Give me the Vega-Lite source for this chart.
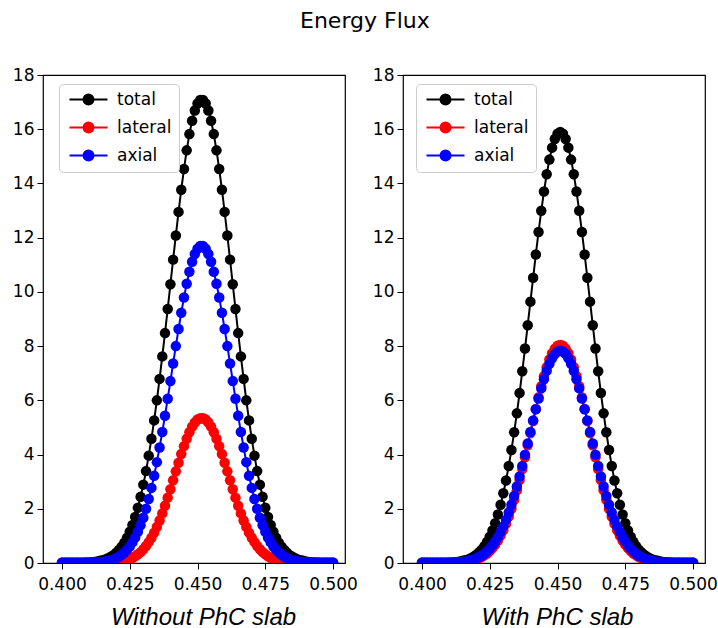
{
"$schema": "https://vega.github.io/schema/vega-lite/v6.json",
"autosize": {"type": "pad"},
"padding": {"left": 11, "top": 10, "right": 2, "bottom": 0},
"background": "white",
"bounds": "flush",
"spacing": 58,
"title": {"text": "Energy Flux", "font": "DejaVu Sans", "fontSize": 22, "fontWeight": "normal", "color": "black", "anchor": "middle", "offset": 32},
"config": {
  "view": {"stroke": "black", "strokeWidth": 1.2},
  "axis": {"grid": false, "domain": false, "tickColor": "black", "tickSize": 6, "tickWidth": 1, "labelFont": "DejaVu Sans", "labelFontSize": 17, "labelColor": "black"}
},
"datasets": {
"wo": [
{"s":"total","x":0.4,"y":0.01},{"s":"total","x":0.401,"y":0.01},{"s":"total","x":0.402,"y":0.01},{"s":"total","x":0.403,"y":0.01},{"s":"total","x":0.404,"y":0.01},
{"s":"total","x":0.405,"y":0.01},{"s":"total","x":0.406,"y":0.01},{"s":"total","x":0.407,"y":0.01},{"s":"total","x":0.408,"y":0.01},{"s":"total","x":0.409,"y":0.02},
{"s":"total","x":0.41,"y":0.02},{"s":"total","x":0.411,"y":0.03},{"s":"total","x":0.412,"y":0.04},{"s":"total","x":0.413,"y":0.06},{"s":"total","x":0.414,"y":0.08},
{"s":"total","x":0.415,"y":0.1},{"s":"total","x":0.416,"y":0.13},{"s":"total","x":0.417,"y":0.18},{"s":"total","x":0.418,"y":0.23},{"s":"total","x":0.419,"y":0.29},
{"s":"total","x":0.42,"y":0.38},{"s":"total","x":0.421,"y":0.48},{"s":"total","x":0.422,"y":0.6},{"s":"total","x":0.423,"y":0.75},{"s":"total","x":0.424,"y":0.93},
{"s":"total","x":0.425,"y":1.15},{"s":"total","x":0.426,"y":1.4},{"s":"total","x":0.427,"y":1.7},{"s":"total","x":0.428,"y":2.04},{"s":"total","x":0.429,"y":2.44},
{"s":"total","x":0.43,"y":2.89},{"s":"total","x":0.431,"y":3.39},{"s":"total","x":0.432,"y":3.96},{"s":"total","x":0.433,"y":4.58},{"s":"total","x":0.434,"y":5.26},
{"s":"total","x":0.435,"y":6.0},{"s":"total","x":0.436,"y":6.79},{"s":"total","x":0.437,"y":7.62},{"s":"total","x":0.438,"y":8.48},{"s":"total","x":0.439,"y":9.37},
{"s":"total","x":0.44,"y":10.28},{"s":"total","x":0.441,"y":11.19},{"s":"total","x":0.442,"y":12.08},{"s":"total","x":0.443,"y":12.95},{"s":"total","x":0.444,"y":13.77},
{"s":"total","x":0.445,"y":14.53},{"s":"total","x":0.446,"y":15.22},{"s":"total","x":0.447,"y":15.82},{"s":"total","x":0.448,"y":16.31},{"s":"total","x":0.449,"y":16.69},
{"s":"total","x":0.45,"y":16.95},{"s":"total","x":0.451,"y":17.08},{"s":"total","x":0.452,"y":17.08},{"s":"total","x":0.453,"y":16.95},{"s":"total","x":0.454,"y":16.69},
{"s":"total","x":0.455,"y":16.31},{"s":"total","x":0.456,"y":15.82},{"s":"total","x":0.457,"y":15.22},{"s":"total","x":0.458,"y":14.53},{"s":"total","x":0.459,"y":13.77},
{"s":"total","x":0.46,"y":12.95},{"s":"total","x":0.461,"y":12.08},{"s":"total","x":0.462,"y":11.19},{"s":"total","x":0.463,"y":10.28},{"s":"total","x":0.464,"y":9.37},
{"s":"total","x":0.465,"y":8.48},{"s":"total","x":0.466,"y":7.62},{"s":"total","x":0.467,"y":6.79},{"s":"total","x":0.468,"y":6.0},{"s":"total","x":0.469,"y":5.26},
{"s":"total","x":0.47,"y":4.58},{"s":"total","x":0.471,"y":3.96},{"s":"total","x":0.472,"y":3.39},{"s":"total","x":0.473,"y":2.89},{"s":"total","x":0.474,"y":2.44},
{"s":"total","x":0.475,"y":2.04},{"s":"total","x":0.476,"y":1.7},{"s":"total","x":0.477,"y":1.4},{"s":"total","x":0.478,"y":1.15},{"s":"total","x":0.479,"y":0.93},
{"s":"total","x":0.48,"y":0.75},{"s":"total","x":0.481,"y":0.6},{"s":"total","x":0.482,"y":0.48},{"s":"total","x":0.483,"y":0.38},{"s":"total","x":0.484,"y":0.29},
{"s":"total","x":0.485,"y":0.23},{"s":"total","x":0.486,"y":0.18},{"s":"total","x":0.487,"y":0.13},{"s":"total","x":0.488,"y":0.1},{"s":"total","x":0.489,"y":0.08},
{"s":"total","x":0.49,"y":0.06},{"s":"total","x":0.491,"y":0.04},{"s":"total","x":0.492,"y":0.03},{"s":"total","x":0.493,"y":0.02},{"s":"total","x":0.494,"y":0.02},
{"s":"total","x":0.495,"y":0.01},{"s":"total","x":0.496,"y":0.01},{"s":"total","x":0.497,"y":0.01},{"s":"total","x":0.498,"y":0.01},{"s":"total","x":0.499,"y":0.01},
{"s":"total","x":0.5,"y":0.01},
{"s":"lateral","x":0.4,"y":0.01},{"s":"lateral","x":0.401,"y":0.01},{"s":"lateral","x":0.402,"y":0.01},{"s":"lateral","x":0.403,"y":0.01},{"s":"lateral","x":0.404,"y":0.01},
{"s":"lateral","x":0.405,"y":0.01},{"s":"lateral","x":0.406,"y":0.01},{"s":"lateral","x":0.407,"y":0.01},{"s":"lateral","x":0.408,"y":0.01},{"s":"lateral","x":0.409,"y":0.01},
{"s":"lateral","x":0.41,"y":0.01},{"s":"lateral","x":0.411,"y":0.01},{"s":"lateral","x":0.412,"y":0.01},{"s":"lateral","x":0.413,"y":0.01},{"s":"lateral","x":0.414,"y":0.01},
{"s":"lateral","x":0.415,"y":0.01},{"s":"lateral","x":0.416,"y":0.01},{"s":"lateral","x":0.417,"y":0.01},{"s":"lateral","x":0.418,"y":0.02},{"s":"lateral","x":0.419,"y":0.02},
{"s":"lateral","x":0.42,"y":0.03},{"s":"lateral","x":0.421,"y":0.05},{"s":"lateral","x":0.422,"y":0.06},{"s":"lateral","x":0.423,"y":0.08},{"s":"lateral","x":0.424,"y":0.11},
{"s":"lateral","x":0.425,"y":0.15},{"s":"lateral","x":0.426,"y":0.19},{"s":"lateral","x":0.427,"y":0.25},{"s":"lateral","x":0.428,"y":0.32},{"s":"lateral","x":0.429,"y":0.4},
{"s":"lateral","x":0.43,"y":0.51},{"s":"lateral","x":0.431,"y":0.63},{"s":"lateral","x":0.432,"y":0.77},{"s":"lateral","x":0.433,"y":0.93},{"s":"lateral","x":0.434,"y":1.12},
{"s":"lateral","x":0.435,"y":1.33},{"s":"lateral","x":0.436,"y":1.57},{"s":"lateral","x":0.437,"y":1.83},{"s":"lateral","x":0.438,"y":2.11},{"s":"lateral","x":0.439,"y":2.41},
{"s":"lateral","x":0.44,"y":2.72},{"s":"lateral","x":0.441,"y":3.05},{"s":"lateral","x":0.442,"y":3.38},{"s":"lateral","x":0.443,"y":3.7},{"s":"lateral","x":0.444,"y":4.02},
{"s":"lateral","x":0.445,"y":4.31},{"s":"lateral","x":0.446,"y":4.58},{"s":"lateral","x":0.447,"y":4.82},{"s":"lateral","x":0.448,"y":5.03},{"s":"lateral","x":0.449,"y":5.18},
{"s":"lateral","x":0.45,"y":5.29},{"s":"lateral","x":0.451,"y":5.34},{"s":"lateral","x":0.452,"y":5.34},{"s":"lateral","x":0.453,"y":5.29},{"s":"lateral","x":0.454,"y":5.18},
{"s":"lateral","x":0.455,"y":5.03},{"s":"lateral","x":0.456,"y":4.82},{"s":"lateral","x":0.457,"y":4.58},{"s":"lateral","x":0.458,"y":4.31},{"s":"lateral","x":0.459,"y":4.02},
{"s":"lateral","x":0.46,"y":3.7},{"s":"lateral","x":0.461,"y":3.38},{"s":"lateral","x":0.462,"y":3.05},{"s":"lateral","x":0.463,"y":2.72},{"s":"lateral","x":0.464,"y":2.41},
{"s":"lateral","x":0.465,"y":2.11},{"s":"lateral","x":0.466,"y":1.83},{"s":"lateral","x":0.467,"y":1.57},{"s":"lateral","x":0.468,"y":1.33},{"s":"lateral","x":0.469,"y":1.12},
{"s":"lateral","x":0.47,"y":0.93},{"s":"lateral","x":0.471,"y":0.77},{"s":"lateral","x":0.472,"y":0.63},{"s":"lateral","x":0.473,"y":0.51},{"s":"lateral","x":0.474,"y":0.4},
{"s":"lateral","x":0.475,"y":0.32},{"s":"lateral","x":0.476,"y":0.25},{"s":"lateral","x":0.477,"y":0.19},{"s":"lateral","x":0.478,"y":0.15},{"s":"lateral","x":0.479,"y":0.11},
{"s":"lateral","x":0.48,"y":0.08},{"s":"lateral","x":0.481,"y":0.06},{"s":"lateral","x":0.482,"y":0.05},{"s":"lateral","x":0.483,"y":0.03},{"s":"lateral","x":0.484,"y":0.02},
{"s":"lateral","x":0.485,"y":0.02},{"s":"lateral","x":0.486,"y":0.01},{"s":"lateral","x":0.487,"y":0.01},{"s":"lateral","x":0.488,"y":0.01},{"s":"lateral","x":0.489,"y":0.01},
{"s":"lateral","x":0.49,"y":0.01},{"s":"lateral","x":0.491,"y":0.01},{"s":"lateral","x":0.492,"y":0.01},{"s":"lateral","x":0.493,"y":0.01},{"s":"lateral","x":0.494,"y":0.01},
{"s":"lateral","x":0.495,"y":0.01},{"s":"lateral","x":0.496,"y":0.01},{"s":"lateral","x":0.497,"y":0.01},{"s":"lateral","x":0.498,"y":0.01},{"s":"lateral","x":0.499,"y":0.01},
{"s":"lateral","x":0.5,"y":0.01},
{"s":"axial","x":0.4,"y":0.01},{"s":"axial","x":0.401,"y":0.01},{"s":"axial","x":0.402,"y":0.01},{"s":"axial","x":0.403,"y":0.01},{"s":"axial","x":0.404,"y":0.01},
{"s":"axial","x":0.405,"y":0.01},{"s":"axial","x":0.406,"y":0.01},{"s":"axial","x":0.407,"y":0.01},{"s":"axial","x":0.408,"y":0.01},{"s":"axial","x":0.409,"y":0.01},
{"s":"axial","x":0.41,"y":0.01},{"s":"axial","x":0.411,"y":0.01},{"s":"axial","x":0.412,"y":0.02},{"s":"axial","x":0.413,"y":0.02},{"s":"axial","x":0.414,"y":0.03},
{"s":"axial","x":0.415,"y":0.04},{"s":"axial","x":0.416,"y":0.06},{"s":"axial","x":0.417,"y":0.08},{"s":"axial","x":0.418,"y":0.1},{"s":"axial","x":0.419,"y":0.14},
{"s":"axial","x":0.42,"y":0.18},{"s":"axial","x":0.421,"y":0.23},{"s":"axial","x":0.422,"y":0.3},{"s":"axial","x":0.423,"y":0.38},{"s":"axial","x":0.424,"y":0.49},
{"s":"axial","x":0.425,"y":0.61},{"s":"axial","x":0.426,"y":0.76},{"s":"axial","x":0.427,"y":0.94},{"s":"axial","x":0.428,"y":1.15},{"s":"axial","x":0.429,"y":1.39},
{"s":"axial","x":0.43,"y":1.67},{"s":"axial","x":0.431,"y":2.0},{"s":"axial","x":0.432,"y":2.36},{"s":"axial","x":0.433,"y":2.77},{"s":"axial","x":0.434,"y":3.22},
{"s":"axial","x":0.435,"y":3.72},{"s":"axial","x":0.436,"y":4.26},{"s":"axial","x":0.437,"y":4.83},{"s":"axial","x":0.438,"y":5.43},{"s":"axial","x":0.439,"y":6.06},
{"s":"axial","x":0.44,"y":6.71},{"s":"axial","x":0.441,"y":7.36},{"s":"axial","x":0.442,"y":8.0},{"s":"axial","x":0.443,"y":8.63},{"s":"axial","x":0.444,"y":9.23},
{"s":"axial","x":0.445,"y":9.79},{"s":"axial","x":0.446,"y":10.3},{"s":"axial","x":0.447,"y":10.74},{"s":"axial","x":0.448,"y":11.11},{"s":"axial","x":0.449,"y":11.4},
{"s":"axial","x":0.45,"y":11.59},{"s":"axial","x":0.451,"y":11.69},{"s":"axial","x":0.452,"y":11.69},{"s":"axial","x":0.453,"y":11.59},{"s":"axial","x":0.454,"y":11.4},
{"s":"axial","x":0.455,"y":11.11},{"s":"axial","x":0.456,"y":10.74},{"s":"axial","x":0.457,"y":10.3},{"s":"axial","x":0.458,"y":9.79},{"s":"axial","x":0.459,"y":9.23},
{"s":"axial","x":0.46,"y":8.63},{"s":"axial","x":0.461,"y":8.0},{"s":"axial","x":0.462,"y":7.36},{"s":"axial","x":0.463,"y":6.71},{"s":"axial","x":0.464,"y":6.06},
{"s":"axial","x":0.465,"y":5.43},{"s":"axial","x":0.466,"y":4.83},{"s":"axial","x":0.467,"y":4.26},{"s":"axial","x":0.468,"y":3.72},{"s":"axial","x":0.469,"y":3.22},
{"s":"axial","x":0.47,"y":2.77},{"s":"axial","x":0.471,"y":2.36},{"s":"axial","x":0.472,"y":2.0},{"s":"axial","x":0.473,"y":1.67},{"s":"axial","x":0.474,"y":1.39},
{"s":"axial","x":0.475,"y":1.15},{"s":"axial","x":0.476,"y":0.94},{"s":"axial","x":0.477,"y":0.76},{"s":"axial","x":0.478,"y":0.61},{"s":"axial","x":0.479,"y":0.49},
{"s":"axial","x":0.48,"y":0.38},{"s":"axial","x":0.481,"y":0.3},{"s":"axial","x":0.482,"y":0.23},{"s":"axial","x":0.483,"y":0.18},{"s":"axial","x":0.484,"y":0.14},
{"s":"axial","x":0.485,"y":0.1},{"s":"axial","x":0.486,"y":0.08},{"s":"axial","x":0.487,"y":0.06},{"s":"axial","x":0.488,"y":0.04},{"s":"axial","x":0.489,"y":0.03},
{"s":"axial","x":0.49,"y":0.02},{"s":"axial","x":0.491,"y":0.02},{"s":"axial","x":0.492,"y":0.01},{"s":"axial","x":0.493,"y":0.01},{"s":"axial","x":0.494,"y":0.01},
{"s":"axial","x":0.495,"y":0.01},{"s":"axial","x":0.496,"y":0.01},{"s":"axial","x":0.497,"y":0.01},{"s":"axial","x":0.498,"y":0.01},{"s":"axial","x":0.499,"y":0.01},
{"s":"axial","x":0.5,"y":0.01}
],
"wi": [
{"s":"total","x":0.4,"y":0.01},{"s":"total","x":0.401,"y":0.01},{"s":"total","x":0.402,"y":0.01},{"s":"total","x":0.403,"y":0.01},{"s":"total","x":0.404,"y":0.01},
{"s":"total","x":0.405,"y":0.01},{"s":"total","x":0.406,"y":0.01},{"s":"total","x":0.407,"y":0.01},{"s":"total","x":0.408,"y":0.01},{"s":"total","x":0.409,"y":0.01},
{"s":"total","x":0.41,"y":0.02},{"s":"total","x":0.411,"y":0.02},{"s":"total","x":0.412,"y":0.03},{"s":"total","x":0.413,"y":0.04},{"s":"total","x":0.414,"y":0.06},
{"s":"total","x":0.415,"y":0.08},{"s":"total","x":0.416,"y":0.1},{"s":"total","x":0.417,"y":0.13},{"s":"total","x":0.418,"y":0.18},{"s":"total","x":0.419,"y":0.23},
{"s":"total","x":0.42,"y":0.3},{"s":"total","x":0.421,"y":0.39},{"s":"total","x":0.422,"y":0.49},{"s":"total","x":0.423,"y":0.62},{"s":"total","x":0.424,"y":0.78},
{"s":"total","x":0.425,"y":0.97},{"s":"total","x":0.426,"y":1.2},{"s":"total","x":0.427,"y":1.47},{"s":"total","x":0.428,"y":1.79},{"s":"total","x":0.429,"y":2.15},
{"s":"total","x":0.43,"y":2.57},{"s":"total","x":0.431,"y":3.04},{"s":"total","x":0.432,"y":3.58},{"s":"total","x":0.433,"y":4.17},{"s":"total","x":0.434,"y":4.82},
{"s":"total","x":0.435,"y":5.52},{"s":"total","x":0.436,"y":6.27},{"s":"total","x":0.437,"y":7.07},{"s":"total","x":0.438,"y":7.91},{"s":"total","x":0.439,"y":8.77},
{"s":"total","x":0.44,"y":9.64},{"s":"total","x":0.441,"y":10.52},{"s":"total","x":0.442,"y":11.38},{"s":"total","x":0.443,"y":12.21},{"s":"total","x":0.444,"y":12.99},
{"s":"total","x":0.445,"y":13.7},{"s":"total","x":0.446,"y":14.34},{"s":"total","x":0.447,"y":14.88},{"s":"total","x":0.448,"y":15.32},{"s":"total","x":0.449,"y":15.64},
{"s":"total","x":0.45,"y":15.83},{"s":"total","x":0.451,"y":15.9},{"s":"total","x":0.452,"y":15.83},{"s":"total","x":0.453,"y":15.64},{"s":"total","x":0.454,"y":15.32},
{"s":"total","x":0.455,"y":14.88},{"s":"total","x":0.456,"y":14.34},{"s":"total","x":0.457,"y":13.7},{"s":"total","x":0.458,"y":12.99},{"s":"total","x":0.459,"y":12.21},
{"s":"total","x":0.46,"y":11.38},{"s":"total","x":0.461,"y":10.52},{"s":"total","x":0.462,"y":9.64},{"s":"total","x":0.463,"y":8.77},{"s":"total","x":0.464,"y":7.91},
{"s":"total","x":0.465,"y":7.07},{"s":"total","x":0.466,"y":6.27},{"s":"total","x":0.467,"y":5.52},{"s":"total","x":0.468,"y":4.82},{"s":"total","x":0.469,"y":4.17},
{"s":"total","x":0.47,"y":3.58},{"s":"total","x":0.471,"y":3.04},{"s":"total","x":0.472,"y":2.57},{"s":"total","x":0.473,"y":2.15},{"s":"total","x":0.474,"y":1.79},
{"s":"total","x":0.475,"y":1.47},{"s":"total","x":0.476,"y":1.2},{"s":"total","x":0.477,"y":0.97},{"s":"total","x":0.478,"y":0.78},{"s":"total","x":0.479,"y":0.62},
{"s":"total","x":0.48,"y":0.49},{"s":"total","x":0.481,"y":0.39},{"s":"total","x":0.482,"y":0.3},{"s":"total","x":0.483,"y":0.23},{"s":"total","x":0.484,"y":0.18},
{"s":"total","x":0.485,"y":0.13},{"s":"total","x":0.486,"y":0.1},{"s":"total","x":0.487,"y":0.08},{"s":"total","x":0.488,"y":0.06},{"s":"total","x":0.489,"y":0.04},
{"s":"total","x":0.49,"y":0.03},{"s":"total","x":0.491,"y":0.02},{"s":"total","x":0.492,"y":0.02},{"s":"total","x":0.493,"y":0.01},{"s":"total","x":0.494,"y":0.01},
{"s":"total","x":0.495,"y":0.01},{"s":"total","x":0.496,"y":0.01},{"s":"total","x":0.497,"y":0.01},{"s":"total","x":0.498,"y":0.01},{"s":"total","x":0.499,"y":0.01},
{"s":"total","x":0.5,"y":0.01},
{"s":"lateral","x":0.4,"y":0.01},{"s":"lateral","x":0.401,"y":0.01},{"s":"lateral","x":0.402,"y":0.01},{"s":"lateral","x":0.403,"y":0.01},{"s":"lateral","x":0.404,"y":0.01},
{"s":"lateral","x":0.405,"y":0.01},{"s":"lateral","x":0.406,"y":0.01},{"s":"lateral","x":0.407,"y":0.01},{"s":"lateral","x":0.408,"y":0.01},{"s":"lateral","x":0.409,"y":0.01},
{"s":"lateral","x":0.41,"y":0.01},{"s":"lateral","x":0.411,"y":0.01},{"s":"lateral","x":0.412,"y":0.01},{"s":"lateral","x":0.413,"y":0.02},{"s":"lateral","x":0.414,"y":0.02},
{"s":"lateral","x":0.415,"y":0.03},{"s":"lateral","x":0.416,"y":0.04},{"s":"lateral","x":0.417,"y":0.06},{"s":"lateral","x":0.418,"y":0.08},{"s":"lateral","x":0.419,"y":0.1},
{"s":"lateral","x":0.42,"y":0.13},{"s":"lateral","x":0.421,"y":0.17},{"s":"lateral","x":0.422,"y":0.22},{"s":"lateral","x":0.423,"y":0.28},{"s":"lateral","x":0.424,"y":0.35},
{"s":"lateral","x":0.425,"y":0.44},{"s":"lateral","x":0.426,"y":0.55},{"s":"lateral","x":0.427,"y":0.68},{"s":"lateral","x":0.428,"y":0.83},{"s":"lateral","x":0.429,"y":1.01},
{"s":"lateral","x":0.43,"y":1.21},{"s":"lateral","x":0.431,"y":1.45},{"s":"lateral","x":0.432,"y":1.71},{"s":"lateral","x":0.433,"y":2.0},{"s":"lateral","x":0.434,"y":2.33},
{"s":"lateral","x":0.435,"y":2.68},{"s":"lateral","x":0.436,"y":3.06},{"s":"lateral","x":0.437,"y":3.47},{"s":"lateral","x":0.438,"y":3.9},{"s":"lateral","x":0.439,"y":4.34},
{"s":"lateral","x":0.44,"y":4.79},{"s":"lateral","x":0.441,"y":5.24},{"s":"lateral","x":0.442,"y":5.68},{"s":"lateral","x":0.443,"y":6.11},{"s":"lateral","x":0.444,"y":6.52},
{"s":"lateral","x":0.445,"y":6.89},{"s":"lateral","x":0.446,"y":7.22},{"s":"lateral","x":0.447,"y":7.51},{"s":"lateral","x":0.448,"y":7.74},{"s":"lateral","x":0.449,"y":7.9},
{"s":"lateral","x":0.45,"y":8.01},{"s":"lateral","x":0.451,"y":8.04},{"s":"lateral","x":0.452,"y":8.01},{"s":"lateral","x":0.453,"y":7.9},{"s":"lateral","x":0.454,"y":7.74},
{"s":"lateral","x":0.455,"y":7.51},{"s":"lateral","x":0.456,"y":7.22},{"s":"lateral","x":0.457,"y":6.89},{"s":"lateral","x":0.458,"y":6.52},{"s":"lateral","x":0.459,"y":6.11},
{"s":"lateral","x":0.46,"y":5.68},{"s":"lateral","x":0.461,"y":5.24},{"s":"lateral","x":0.462,"y":4.79},{"s":"lateral","x":0.463,"y":4.34},{"s":"lateral","x":0.464,"y":3.9},
{"s":"lateral","x":0.465,"y":3.47},{"s":"lateral","x":0.466,"y":3.06},{"s":"lateral","x":0.467,"y":2.68},{"s":"lateral","x":0.468,"y":2.33},{"s":"lateral","x":0.469,"y":2.0},
{"s":"lateral","x":0.47,"y":1.71},{"s":"lateral","x":0.471,"y":1.45},{"s":"lateral","x":0.472,"y":1.21},{"s":"lateral","x":0.473,"y":1.01},{"s":"lateral","x":0.474,"y":0.83},
{"s":"lateral","x":0.475,"y":0.68},{"s":"lateral","x":0.476,"y":0.55},{"s":"lateral","x":0.477,"y":0.44},{"s":"lateral","x":0.478,"y":0.35},{"s":"lateral","x":0.479,"y":0.28},
{"s":"lateral","x":0.48,"y":0.22},{"s":"lateral","x":0.481,"y":0.17},{"s":"lateral","x":0.482,"y":0.13},{"s":"lateral","x":0.483,"y":0.1},{"s":"lateral","x":0.484,"y":0.08},
{"s":"lateral","x":0.485,"y":0.06},{"s":"lateral","x":0.486,"y":0.04},{"s":"lateral","x":0.487,"y":0.03},{"s":"lateral","x":0.488,"y":0.02},{"s":"lateral","x":0.489,"y":0.02},
{"s":"lateral","x":0.49,"y":0.01},{"s":"lateral","x":0.491,"y":0.01},{"s":"lateral","x":0.492,"y":0.01},{"s":"lateral","x":0.493,"y":0.01},{"s":"lateral","x":0.494,"y":0.01},
{"s":"lateral","x":0.495,"y":0.01},{"s":"lateral","x":0.496,"y":0.01},{"s":"lateral","x":0.497,"y":0.01},{"s":"lateral","x":0.498,"y":0.01},{"s":"lateral","x":0.499,"y":0.01},
{"s":"lateral","x":0.5,"y":0.01},
{"s":"axial","x":0.4,"y":0.01},{"s":"axial","x":0.401,"y":0.01},{"s":"axial","x":0.402,"y":0.01},{"s":"axial","x":0.403,"y":0.01},{"s":"axial","x":0.404,"y":0.01},
{"s":"axial","x":0.405,"y":0.01},{"s":"axial","x":0.406,"y":0.01},{"s":"axial","x":0.407,"y":0.01},{"s":"axial","x":0.408,"y":0.01},{"s":"axial","x":0.409,"y":0.01},
{"s":"axial","x":0.41,"y":0.01},{"s":"axial","x":0.411,"y":0.01},{"s":"axial","x":0.412,"y":0.02},{"s":"axial","x":0.413,"y":0.02},{"s":"axial","x":0.414,"y":0.03},
{"s":"axial","x":0.415,"y":0.04},{"s":"axial","x":0.416,"y":0.06},{"s":"axial","x":0.417,"y":0.08},{"s":"axial","x":0.418,"y":0.1},{"s":"axial","x":0.419,"y":0.13},
{"s":"axial","x":0.42,"y":0.17},{"s":"axial","x":0.421,"y":0.22},{"s":"axial","x":0.422,"y":0.27},{"s":"axial","x":0.423,"y":0.34},{"s":"axial","x":0.424,"y":0.43},
{"s":"axial","x":0.425,"y":0.53},{"s":"axial","x":0.426,"y":0.65},{"s":"axial","x":0.427,"y":0.79},{"s":"axial","x":0.428,"y":0.95},{"s":"axial","x":0.429,"y":1.14},
{"s":"axial","x":0.43,"y":1.35},{"s":"axial","x":0.431,"y":1.59},{"s":"axial","x":0.432,"y":1.86},{"s":"axial","x":0.433,"y":2.15},{"s":"axial","x":0.434,"y":2.47},
{"s":"axial","x":0.435,"y":2.82},{"s":"axial","x":0.436,"y":3.19},{"s":"axial","x":0.437,"y":3.58},{"s":"axial","x":0.438,"y":3.99},{"s":"axial","x":0.439,"y":4.41},
{"s":"axial","x":0.44,"y":4.83},{"s":"axial","x":0.441,"y":5.26},{"s":"axial","x":0.442,"y":5.67},{"s":"axial","x":0.443,"y":6.07},{"s":"axial","x":0.444,"y":6.44},
{"s":"axial","x":0.445,"y":6.78},{"s":"axial","x":0.446,"y":7.09},{"s":"axial","x":0.447,"y":7.35},{"s":"axial","x":0.448,"y":7.55},{"s":"axial","x":0.449,"y":7.71},
{"s":"axial","x":0.45,"y":7.8},{"s":"axial","x":0.451,"y":7.83},{"s":"axial","x":0.452,"y":7.8},{"s":"axial","x":0.453,"y":7.71},{"s":"axial","x":0.454,"y":7.55},
{"s":"axial","x":0.455,"y":7.35},{"s":"axial","x":0.456,"y":7.09},{"s":"axial","x":0.457,"y":6.78},{"s":"axial","x":0.458,"y":6.44},{"s":"axial","x":0.459,"y":6.07},
{"s":"axial","x":0.46,"y":5.67},{"s":"axial","x":0.461,"y":5.26},{"s":"axial","x":0.462,"y":4.83},{"s":"axial","x":0.463,"y":4.41},{"s":"axial","x":0.464,"y":3.99},
{"s":"axial","x":0.465,"y":3.58},{"s":"axial","x":0.466,"y":3.19},{"s":"axial","x":0.467,"y":2.82},{"s":"axial","x":0.468,"y":2.47},{"s":"axial","x":0.469,"y":2.15},
{"s":"axial","x":0.47,"y":1.86},{"s":"axial","x":0.471,"y":1.59},{"s":"axial","x":0.472,"y":1.35},{"s":"axial","x":0.473,"y":1.14},{"s":"axial","x":0.474,"y":0.95},
{"s":"axial","x":0.475,"y":0.79},{"s":"axial","x":0.476,"y":0.65},{"s":"axial","x":0.477,"y":0.53},{"s":"axial","x":0.478,"y":0.43},{"s":"axial","x":0.479,"y":0.34},
{"s":"axial","x":0.48,"y":0.27},{"s":"axial","x":0.481,"y":0.22},{"s":"axial","x":0.482,"y":0.17},{"s":"axial","x":0.483,"y":0.13},{"s":"axial","x":0.484,"y":0.1},
{"s":"axial","x":0.485,"y":0.08},{"s":"axial","x":0.486,"y":0.06},{"s":"axial","x":0.487,"y":0.04},{"s":"axial","x":0.488,"y":0.03},{"s":"axial","x":0.489,"y":0.02},
{"s":"axial","x":0.49,"y":0.02},{"s":"axial","x":0.491,"y":0.01},{"s":"axial","x":0.492,"y":0.01},{"s":"axial","x":0.493,"y":0.01},{"s":"axial","x":0.494,"y":0.01},
{"s":"axial","x":0.495,"y":0.01},{"s":"axial","x":0.496,"y":0.01},{"s":"axial","x":0.497,"y":0.01},{"s":"axial","x":0.498,"y":0.01},{"s":"axial","x":0.499,"y":0.01},
{"s":"axial","x":0.5,"y":0.01}
]
},
"hconcat": [
{
  "width": 302, "height": 488,
  "data": {"name": "wo"},
  "encoding": {
    "x": {"field": "x", "type": "quantitative", "scale": {"domain": [0.393, 0.5044], "nice": false, "zero": false},
          "axis": {"values": [0.4, 0.425, 0.45, 0.475, 0.5], "format": ".3f", "labelPadding": 7, "title": "Without PhC slab", "titleFont": "Liberation Sans", "titleFontStyle": "italic", "titleFontWeight": "normal", "titleFontSize": 24, "titleColor": "black", "titleX": 160, "titleY": 61, "titleBaseline": "alphabetic", "titleAlign": "center", "titleAnchor": null}},
    "y": {"field": "y", "type": "quantitative", "scale": {"domain": [0, 18], "nice": false},
          "axis": {"values": [0, 2, 4, 6, 8, 10, 12, 14, 16, 18], "format": "d", "labelPadding": 3, "title": null}},
    "color": {"field": "s", "type": "nominal", "scale": {"domain": ["total", "lateral", "axial"], "range": ["#000000", "#ff0000", "#0000ff"]},
      "legend": {"orient": "none", "legendX": 16, "legendY": 9, "title": null, "symbolType": "M-1,0H6.6M3.8,0A1,1,0,1,1,1.8,0A1,1,0,1,1,3.8,0Z", "symbolSize": 100, "symbolStrokeWidth": 2, "labelFont": "DejaVu Sans", "labelFontSize": 17, "labelColor": "black", "labelOffset": 34, "rowPadding": 9, "padding": 7, "fillColor": "rgba(255,255,255,0.8)", "strokeColor": "#cccccc", "cornerRadius": 4,
        "encode": {"symbols": {"update": {"fill": {"signal": "datum.value === 'total' ? '#000000' : datum.value === 'lateral' ? '#ff0000' : '#0000ff'"}, "stroke": {"signal": "datum.value === 'total' ? '#000000' : datum.value === 'lateral' ? '#ff0000' : '#0000ff'"}, "opacity": {"value": 1}, "strokeWidth": {"value": 2}}}}}}
  },
  "layer": [
    {"mark": {"type": "line", "strokeWidth": 2, "clip": true}},
    {"mark": {"type": "point", "filled": true, "shape": "circle", "size": 110, "opacity": 1, "strokeWidth": 0, "clip": true}}
  ]
},
{
  "width": 302, "height": 488,
  "data": {"name": "wi"},
  "encoding": {
    "x": {"field": "x", "type": "quantitative", "scale": {"domain": [0.393, 0.5044], "nice": false, "zero": false},
          "axis": {"values": [0.4, 0.425, 0.45, 0.475, 0.5], "format": ".3f", "labelPadding": 7, "title": "With PhC slab", "titleFont": "Liberation Sans", "titleFontStyle": "italic", "titleFontWeight": "normal", "titleFontSize": 24, "titleColor": "black", "titleX": 154, "titleY": 61, "titleBaseline": "alphabetic", "titleAlign": "center", "titleAnchor": null}},
    "y": {"field": "y", "type": "quantitative", "scale": {"domain": [0, 18], "nice": false},
          "axis": {"values": [0, 2, 4, 6, 8, 10, 12, 14, 16, 18], "format": "d", "labelPadding": 3, "title": null}},
    "color": {"field": "s", "type": "nominal", "scale": {"domain": ["total", "lateral", "axial"], "range": ["#000000", "#ff0000", "#0000ff"]},
      "legend": {"orient": "none", "legendX": 13, "legendY": 9, "title": null, "symbolType": "M-1,0H6.6M3.8,0A1,1,0,1,1,1.8,0A1,1,0,1,1,3.8,0Z", "symbolSize": 100, "symbolStrokeWidth": 2, "labelFont": "DejaVu Sans", "labelFontSize": 17, "labelColor": "black", "labelOffset": 34, "rowPadding": 9, "padding": 7, "fillColor": "rgba(255,255,255,0.8)", "strokeColor": "#cccccc", "cornerRadius": 4,
        "encode": {"symbols": {"update": {"fill": {"signal": "datum.value === 'total' ? '#000000' : datum.value === 'lateral' ? '#ff0000' : '#0000ff'"}, "stroke": {"signal": "datum.value === 'total' ? '#000000' : datum.value === 'lateral' ? '#ff0000' : '#0000ff'"}, "opacity": {"value": 1}, "strokeWidth": {"value": 2}}}}}}
  },
  "layer": [
    {"mark": {"type": "line", "strokeWidth": 2, "clip": true}},
    {"mark": {"type": "point", "filled": true, "shape": "circle", "size": 110, "opacity": 1, "strokeWidth": 0, "clip": true}}
  ]
}
],
"resolve": {"scale": {"color": "independent"}, "legend": {"color": "independent"}}
}
